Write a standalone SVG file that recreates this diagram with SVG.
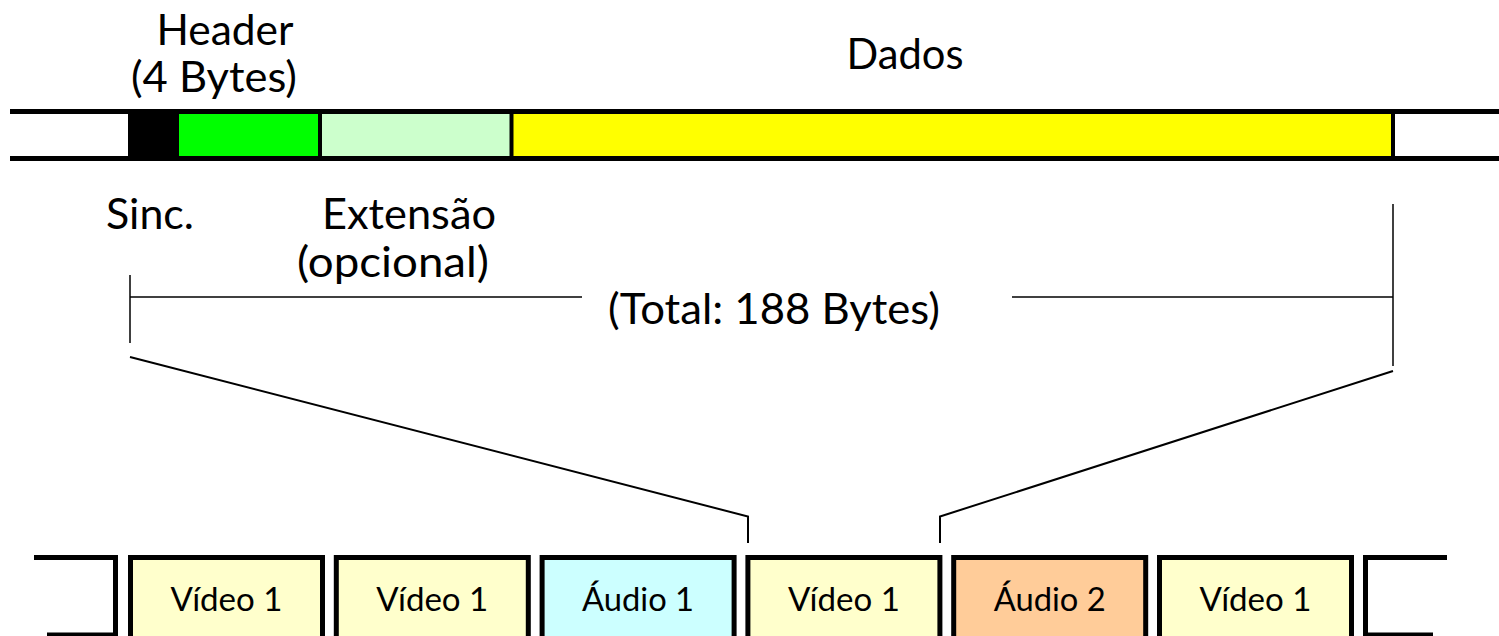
<svg xmlns="http://www.w3.org/2000/svg" width="1499" height="636" viewBox="0 0 1499 636">
<style>
.lbl{font-family:Lato,"Open Sans","Liberation Sans",sans-serif;font-size:43px;fill:#000;text-anchor:middle}
.blbl{font-family:Lato,"Open Sans","Liberation Sans",sans-serif;font-size:33px;fill:#000;text-anchor:middle}
.thick{stroke:#000;stroke-width:5;fill:none}
.box{stroke:#000;stroke-width:5}
.thin{stroke:#000;stroke-width:1.5;fill:none}
.conn{stroke:#000;stroke-width:2;fill:none}
</style>
<rect width="1499" height="636" fill="#fff"/>
<g id="packet">
  <rect x="128" y="113" width="51" height="45" fill="#000"/>
  <rect x="179" y="113" width="141" height="45" fill="#00FF00"/>
  <rect x="320" y="113" width="191" height="45" fill="#CCFFCC"/>
  <rect x="511" y="113" width="882" height="45" fill="#FFFF00"/>
  <line class="thick" x1="10" y1="111.5" x2="1499" y2="111.5"/>
  <line class="thick" x1="10" y1="158.5" x2="1499" y2="158.5"/>
  <line class="thick" x1="320" y1="111" x2="320" y2="159" style="stroke-width:4"/>
  <line class="thick" x1="511.5" y1="111" x2="511.5" y2="159" style="stroke-width:4"/>
  <line class="thick" x1="1393" y1="111" x2="1393" y2="159" style="stroke-width:4"/>
</g>
<g id="labels">
  <text class="lbl" x="225" y="45" textLength="137" lengthAdjust="spacingAndGlyphs">Header</text>
  <text class="lbl" x="214" y="92" textLength="166" lengthAdjust="spacingAndGlyphs">(4 Bytes)</text>
  <text class="lbl" x="905" y="69" textLength="117" lengthAdjust="spacingAndGlyphs">Dados</text>
  <text class="lbl" x="150" y="229" textLength="88" lengthAdjust="spacingAndGlyphs">Sinc.</text>
  <text class="lbl" x="409" y="229" textLength="174" lengthAdjust="spacingAndGlyphs">Extensão</text>
  <text class="lbl" x="393" y="277" textLength="192" lengthAdjust="spacingAndGlyphs">(opcional)</text>
  <text class="lbl" x="774" y="324" textLength="332" lengthAdjust="spacingAndGlyphs">(Total: 188 Bytes)</text>
</g>
<g id="connectors">
  <line class="thin" x1="130" y1="275" x2="130" y2="343"/>
  <line class="thin" x1="130" y1="297" x2="582" y2="297"/>
  <line class="thin" x1="1012" y1="297" x2="1393" y2="297"/>
  <line class="thin" x1="1393" y1="204" x2="1393" y2="366"/>
  <polyline class="conn" points="130,357 748,516.5 748,543"/>
  <polyline class="conn" points="1393,371 940,516.5 940,543"/>
</g>
<g id="stream-left">
  <polyline class="thick" points="34,557.5 115.5,557.5 115.5,635 47,635"/>
</g>
<g id="box1"><rect class="box" x="130.5" y="557.5" width="192" height="90" fill="#FFFFCC"/><text class="blbl" x="226.5" y="611" textLength="112" lengthAdjust="spacingAndGlyphs">Vídeo 1</text></g>
<g id="box2"><rect class="box" x="336.3" y="557.5" width="192" height="90" fill="#FFFFCC"/><text class="blbl" x="432.3" y="611" textLength="112" lengthAdjust="spacingAndGlyphs">Vídeo 1</text></g>
<g id="box3"><rect class="box" x="542.1" y="557.5" width="192" height="90" fill="#CCFFFF"/><text class="blbl" x="638.1" y="611" textLength="112" lengthAdjust="spacingAndGlyphs">Áudio 1</text></g>
<g id="box4"><rect class="box" x="747.9" y="557.5" width="192" height="90" fill="#FFFFCC"/><text class="blbl" x="843.9" y="611" textLength="112" lengthAdjust="spacingAndGlyphs">Vídeo 1</text></g>
<g id="box5"><rect class="box" x="953.7" y="557.5" width="192" height="90" fill="#FFCC99"/><text class="blbl" x="1049.7" y="611" textLength="112" lengthAdjust="spacingAndGlyphs">Áudio 2</text></g>
<g id="box6"><rect class="box" x="1159.5" y="557.5" width="192" height="90" fill="#FFFFCC"/><text class="blbl" x="1255.5" y="611" textLength="112" lengthAdjust="spacingAndGlyphs">Vídeo 1</text></g>
<g id="stream-right">
  <polyline class="thick" points="1447,557.5 1365.5,557.5 1365.5,635 1433,635"/>
</g>
</svg>
